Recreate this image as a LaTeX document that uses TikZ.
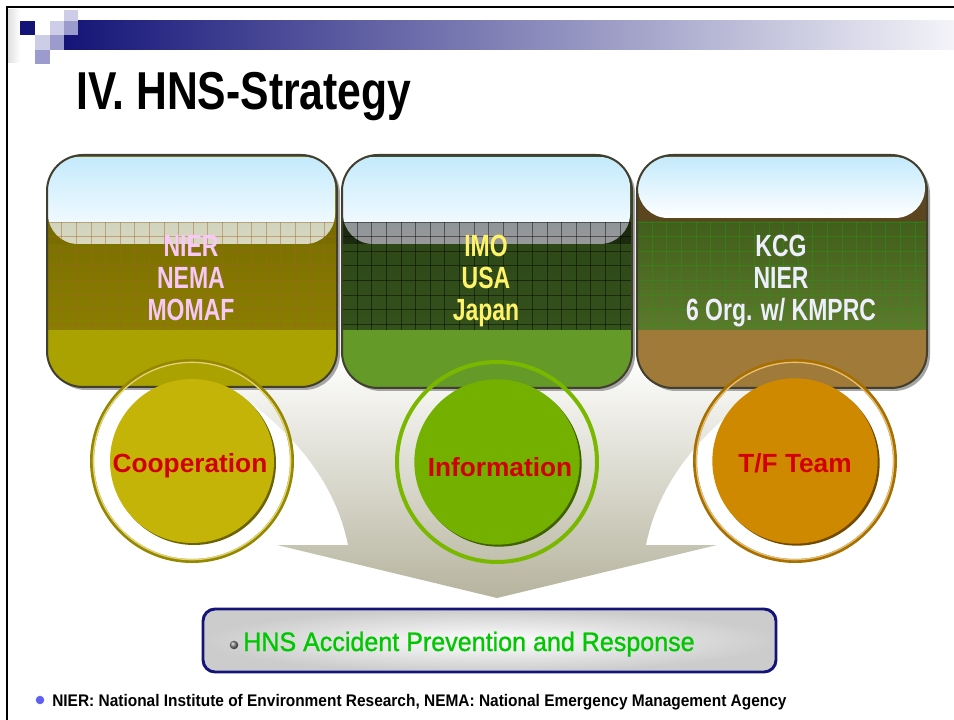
\documentclass[tikz,border=0pt]{standalone}
\usepackage{fontspec}
\setmainfont{Liberation Sans}
\newfontfamily\gultitle[FakeStretch=0.8]{Liberation Sans}
\newfontfamily\gul[FakeStretch=0.75]{Liberation Sans}
\newfontfamily\gulm[FakeStretch=0.94, FakeBold=1]{Liberation Sans}
\newfontfamily\gulw[FakeStretch=0.92]{Liberation Sans}

\definecolor{navy}{RGB}{20,20,120}
\definecolor{lav}{RGB}{205,205,232}
\definecolor{lavm}{RGB}{155,155,205}
\definecolor{sky}{RGB}{196,234,252}
\definecolor{oliveup}{RGB}{112,100,0}
\definecolor{olivelo}{RGB}{138,126,0}
\definecolor{olivebot}{RGB}{170,162,0}
\definecolor{olivegrid}{RGB}{160,100,40}
\definecolor{greenup}{RGB}{40,62,20}
\definecolor{greenlo}{RGB}{52,82,28}
\definecolor{greenbot}{RGB}{100,154,40}
\definecolor{brownup}{RGB}{92,70,32}
\definecolor{kgreenup}{RGB}{66,94,28}
\definecolor{kgreenlo}{RGB}{92,122,44}
\definecolor{kgrid}{RGB}{40,150,20}
\definecolor{brownbot}{RGB}{160,122,56}
\definecolor{arrowgray}{RGB}{182,180,158}
\definecolor{coopring}{RGB}{200,180,0}
\definecolor{coopdisk}{RGB}{196,180,8}
\definecolor{inforing}{RGB}{122,184,0}
\definecolor{infodisk}{RGB}{116,176,0}
\definecolor{teamring}{RGB}{208,138,0}
\definecolor{teamdisk}{RGB}{207,137,0}
\definecolor{labelred}{RGB}{210,0,0}
\definecolor{goalgreen}{RGB}{0,200,0}
\definecolor{bulletblue}{RGB}{96,96,240}
\definecolor{pinktext}{RGB}{248,200,248}
\definecolor{yellowtext}{RGB}{255,243,106}
\definecolor{whitetext}{RGB}{238,238,252}

\tikzset{
  boxline/.style={draw=black!70!olive, line width=1.5pt, rounded corners=27pt},
  boxshadow/.style={fill=black!35, rounded corners=27pt},
  skycap/.style={top color=sky, bottom color=white, rounded corners=22.5pt},
  gridline/.style={line width=0.45pt, opacity=0.45},
  boxtext/.style={anchor=base, inner sep=0pt, font=\gul\bfseries\fontsize{23}{26}\selectfont},
  ring/.style={line width=3pt},
  ringlight/.style={line width=1pt},
  circlabel/.style={anchor=base, inner sep=0pt, text=labelred, font=\bfseries\fontsize{19.7}{22}\selectfont},
}

\begin{document}
\begin{tikzpicture}[x=0.75pt, y=-0.75pt]
\useasboundingbox (0,0) rectangle (954,720);

% slide frame and title bar
\draw[line width=1.5pt] (7,720) -- (7,7) -- (954,7);
\shade[left color=navy, right color=white!95!navy] (64,21) rectangle (954,50);
\shade[left color=black!12, right color=white] (8,10) rectangle (20,63);
\fill[navy] (20,21) rectangle (35,35);
\fill[lav] (64,10) rectangle (78,21);
\fill[lav] (50,21) rectangle (64,35);
\fill[lavm] (64,21) rectangle (78,35);
\fill[lav] (35,35) rectangle (50,50);
\fill[lavm] (50,35) rectangle (64,50);
\fill[lavm] (35,50) rectangle (50,64);
\node[anchor=base west, inner sep=0pt, font=\gultitle\bfseries\fontsize{40}{48}\selectfont] (title) at (76,110) {IV. HNS-Strategy};

% big arrow behind the circles
\shade[top color=white, middle color=arrowgray!85!white, bottom color=arrowgray]
  (178,355) -- (215,378) .. controls (290,425) and (335,480) .. (348,545)
  -- (277,545) -- (497,598) -- (717,545) -- (646,545)
  .. controls (659,480) and (704,425) .. (779,378) -- (816,355) -- cycle;

% box 1
\fill[boxshadow] (50,158) rectangle (340,390);
\begin{scope}
  \clip[rounded corners=27pt] (47,155) rectangle (337,387);
  \fill[olivebot] (47,155) rectangle (337,387);
  \shade[top color=oliveup, bottom color=olivelo] (47,155) rectangle (337,330);
  \shade[skycap] (48,157) rectangle (335,244);
  \fill[oliveup, opacity=0.25] (47,222) rectangle (337,244);
  \foreach \gx in {0,...,19}
    \draw[gridline, olivegrid] (61.7+14.6*\gx,222) -- (61.7+14.6*\gx,330);
  \foreach \gy in {0,...,7}
    \draw[gridline, olivegrid] (47,222+14.6*\gy) -- (337,222+14.6*\gy);
\end{scope}
\draw[boxline] (47,155) rectangle (337,387);
\node[boxtext, text=pinktext] (nier) at (191,257) {NIER};
\node[boxtext, text=pinktext] (nema) at (191,289) {NEMA};
\node[boxtext, text=pinktext] (momaf) at (191,321) {MOMAF};

% box 2
\fill[boxshadow] (345,158) rectangle (635,391);
\begin{scope}
  \clip[rounded corners=27pt] (342,155) rectangle (632,388);
  \fill[greenbot] (342,155) rectangle (632,388);
  \shade[top color=greenup, bottom color=greenlo] (342,155) rectangle (632,330);
  \shade[skycap] (343,157) rectangle (630,244);
  \fill[black, opacity=0.4] (342,222) rectangle (632,244);
  \foreach \gx in {0,...,19}
    \draw[gridline, black] (357+14.6*\gx,222) -- (357+14.6*\gx,330);
  \foreach \gy in {0,...,7}
    \draw[gridline, black] (342,222+14.6*\gy) -- (632,222+14.6*\gy);
\end{scope}
\draw[boxline] (342,155) rectangle (632,388);
\node[boxtext, text=yellowtext] (imo) at (486,257) {IMO};
\node[boxtext, text=yellowtext] (usa) at (486,289) {USA};
\node[boxtext, text=yellowtext] (japan) at (486,321) {Japan};

% box 3
\fill[boxshadow] (640,158) rectangle (930,391);
\begin{scope}
  \clip[rounded corners=27pt] (637,155) rectangle (927,388);
  \fill[brownbot] (637,155) rectangle (927,388);
  \fill[brownup] (637,155) rectangle (927,222);
  \shade[top color=kgreenup, bottom color=kgreenlo] (637,222) rectangle (927,330);
  \shade[skycap] (638,157) rectangle (925,218);
  \foreach \gx in {0,...,19}
    \draw[gridline, kgrid] (652+14.6*\gx,222) -- (652+14.6*\gx,330);
  \foreach \gy in {0,...,7}
    \draw[gridline, kgrid] (637,222+14.6*\gy) -- (927,222+14.6*\gy);
\end{scope}
\draw[boxline] (637,155) rectangle (927,388);
\node[boxtext, text=whitetext] (kcg) at (781,257) {KCG};
\node[boxtext, text=whitetext] (nier2) at (781,289) {NIER};
\node[boxtext, text=whitetext] (korg) at (781,321) {6 Org. w/ KMPRC};

% circles
\fill[black!45!coopdisk] (194,463) circle (61.5pt);
\fill[coopdisk] (192,461) circle (61.5pt);
\draw[ring, black!25!coopring] (192,461) circle (75pt);
\draw[ringlight, white!45!coopring] (192,461) circle (74pt);
\node[circlabel] (coop) at (190,473) {Cooperation};

\fill[black!45!infodisk] (499,464) circle (62pt);
\fill[infodisk] (497,462) circle (62pt);
\draw[ring, inforing] (497,462) circle (75pt);
\node[circlabel] (info) at (500,477) {Information};

\fill[black!45!teamdisk] (797,463) circle (62pt);
\fill[teamdisk] (795,461) circle (62pt);
\draw[ring, black!20!teamring] (795,461) circle (75pt);
\draw[ringlight, white!45!teamring] (795,461) circle (74pt);
\node[circlabel] (team) at (795,473) {T/F Team};

% goal box
\shade[inner color=white, outer color=black!20, rounded corners=9pt] (203,609) rectangle (776,672);
\draw[line width=2.2pt, navy, rounded corners=9pt] (203,609) rectangle (776,672);
\shade[ball color=gray] (234,645) circle (3.2pt);
\node[anchor=base west, inner sep=0pt, text=goalgreen, font=\gulm\fontsize{20}{24}\selectfont] (goal) at (243,651) {HNS Accident Prevention and Response};

% footnote
\fill[bulletblue] (40,700) circle (3.2pt);
\node[anchor=base west, inner sep=0pt, font=\gulw\bfseries\fontsize{12.6}{15}\selectfont] (note) at (52,706) {NIER: National Institute of Environment Research, NEMA: National Emergency Management Agency};
\end{tikzpicture}
\end{document}
